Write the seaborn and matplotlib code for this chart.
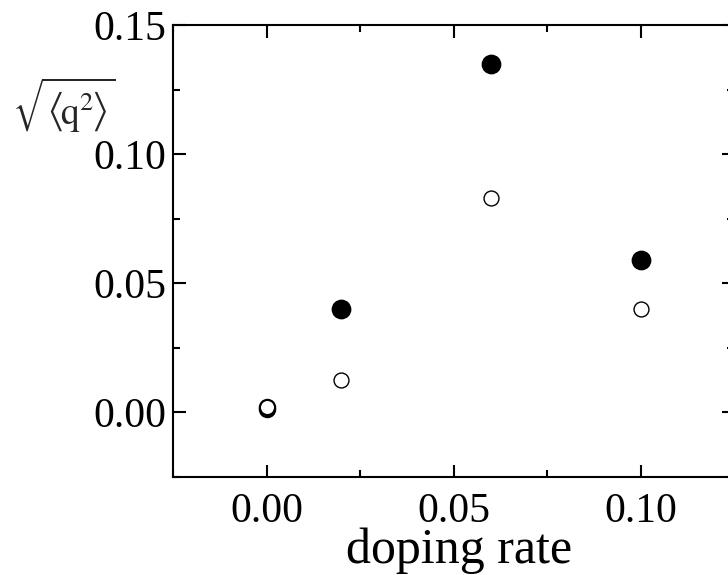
import numpy as np
import matplotlib
matplotlib.use("Agg")
import matplotlib.pyplot as plt
from matplotlib.ticker import MultipleLocator, FormatStrFormatter
import pandas as pd
import seaborn as sns

# data
doping_filled = [0.02, 0.06, 0.10]
q_filled = [0.040, 0.135, 0.059]
doping_open = [0.02, 0.06, 0.10]
q_open = [0.0126, 0.083, 0.040]
doping_zero = [0.0, 0.0]
q_zero = [0.0015, 0.0021]

sns.set_style("ticks")
plt.rcParams['font.family'] = ['Liberation Serif', 'DejaVu Serif']
plt.rcParams['mathtext.fontset'] = 'stix'

fig = plt.figure(figsize=(7.28, 5.75), dpi=100)
ax = fig.add_axes([173/728, 98/575, 561/728, 452/575])

sns.scatterplot(x=doping_zero, y=q_zero, ax=ax, marker='o', s=120,
                facecolor='white', edgecolor='black', linewidth=1.6, zorder=3)
sns.scatterplot(x=doping_open, y=q_open, ax=ax, marker='o', s=115,
                facecolor='white', edgecolor='black', linewidth=1.0, zorder=3)
sns.scatterplot(x=doping_filled, y=q_filled, ax=ax, marker='o', s=175,
                color='black', edgecolor='black', linewidth=1.0, zorder=4)

ax.set_xlim(-0.025, 0.125)
ax.set_ylim(-0.025, 0.15)
ax.xaxis.set_major_locator(MultipleLocator(0.05))
ax.xaxis.set_minor_locator(MultipleLocator(0.025))
ax.yaxis.set_major_locator(MultipleLocator(0.05))
ax.yaxis.set_minor_locator(MultipleLocator(0.025))
ax.xaxis.set_major_formatter(FormatStrFormatter('%.2f'))
ax.yaxis.set_major_formatter(FormatStrFormatter('%.2f'))

for s in ax.spines.values():
    s.set_visible(True)
    s.set_linewidth(1.5)
    s.set_color('black')
ax.tick_params(which='both', direction='in', top=True, right=True,
               width=1.5, color='black', labelsize=30, labelcolor='black')
ax.tick_params(which='major', length=9)
ax.tick_params(which='minor', length=5)
ax.tick_params(axis='x', which='major', pad=11)
ax.tick_params(axis='y', which='major', pad=5)

ax.set_xlabel('doping rate', fontsize=36, color='black', va='baseline')
ax.xaxis.set_label_coords((459 - 173) / 561, -(563 - 477) / 452)
ax.set_ylabel('')
fig.text(12/728, 1 - 105/575,
         r'$\sqrt{\left\langle\!\mathrm{q}^{2}\!\right\rangle}$',
         fontsize=27, ha='left', va='center')

fig.savefig('out.png', dpi=100, facecolor='white')
